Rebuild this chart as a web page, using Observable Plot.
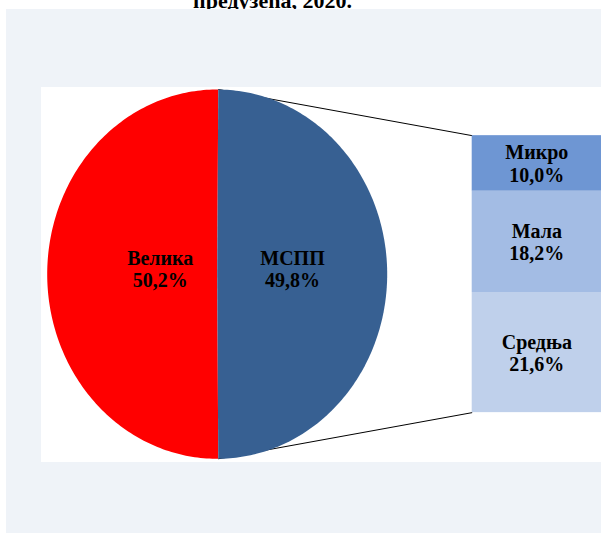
<!DOCTYPE html>
<html>
<head>
<meta charset="utf-8">
<script src="https://cdn.jsdelivr.net/npm/d3@7"></script>
<script src="https://cdn.jsdelivr.net/npm/@observablehq/plot@0.6"></script>
<style>
  html, body { margin: 0; padding: 0; background: #ffffff; overflow: hidden; }
  #wrap { position: relative; width: 601px; height: 533px; overflow: hidden; }
  #title { position: absolute; left: 0; width: 545px; top: -12px; line-height: 22px; text-align: center;
           font: bold 22px "Liberation Serif", "Times New Roman", serif; color: #000; white-space: nowrap; }
  #panel { position: absolute; left: 6px; top: 9px; width: 610px; height: 530px; background: #eff3f8; }
  #plotarea { position: absolute; left: 41px; top: 87px; width: 580px; height: 375px; background: #ffffff; }
  #chart { position: absolute; left: 0; top: 0; }
</style>
</head>
<body>
<div id="wrap">
  <div id="title">предузећа, 2020.</div>
  <div id="panel"></div>
  <div id="plotarea"></div>
  <div id="chart"></div>
</div>
<script>
// ---- data ----
const pieCategories = ["Велика", "МСПП"];
const pieValues = [50.2, 49.8];
const barCategories = ["Микро", "Мала", "Средња"];
const barValues = [10.0, 18.2, 21.6];

// ---- styling ----
const pieColors = ["#ff0000", "#376092"];
const barColors = ["#6e96d3", "#a3bce4", "#bfd0eb"];
const secondPlotSize = 0.75;   // bar height relative to pie diameter
const barLeft = 1.5, barRight = 2.28; // in pie radii
const labelRadius = {"Велика": 0.335, "МСПП": 0.443};

const fmt = v => d3.format(".1f")(v).replace(".", ",") + "%";
const rad = d => d * Math.PI / 180;

// pie angles (clockwise from top); the split slice (МСПП) is centred on the right
const total = d3.sum(pieValues);
const msppSpan = pieValues[1] / total * 360;
const a0 = 90 - msppSpan / 2, a1 = 90 + msppSpan / 2;
const sliceAngles = [[a1, a0 + 360], [a0, a1]];

const wedges = [];
pieCategories.forEach((c, i) => {
  const [s, e] = sliceAngles[i];
  wedges.push({cat: c, x: 0, y: 0});
  const n = Math.ceil(e - s);
  for (let k = 0; k <= n; k++) {
    const a = rad(s + (e - s) * k / n);
    wedges.push({cat: c, x: Math.sin(a), y: Math.cos(a)});
  }
  wedges.push({cat: c, x: 0, y: 0});
});

const pieLabels = pieCategories.map((c, i) => {
  const [s, e] = sliceAngles[i];
  const m = rad((s + e) / 2);
  return {cat: c, x: Math.sin(m) * labelRadius[c], y: Math.cos(m) * labelRadius[c] + 0.03,
          text: c + "\n" + fmt(pieValues[i])};
});

// stacked bar (top = first category)
const barTotal = d3.sum(barValues);
let cum = 0;
const bars = barCategories.map((c, i) => {
  const top = secondPlotSize - 2 * secondPlotSize * cum / barTotal;
  cum += barValues[i];
  const bottom = secondPlotSize - 2 * secondPlotSize * cum / barTotal;
  return {cat: c, y1: bottom, y2: top, x1: barLeft, x2: barRight,
          text: c + "\n" + fmt(barValues[i])};
});

const connectors = [
  {x1: Math.sin(rad(a0)), y1: Math.cos(rad(a0)), x2: barLeft, y2: secondPlotSize},
  {x1: Math.sin(rad(a1)), y1: Math.cos(rad(a1)), x2: barLeft, y2: -secondPlotSize}
];

const font = "Liberation Serif";
const chart = Plot.plot({
  width: 601,
  height: 533,
  margin: 0,
  style: {background: "transparent", overflow: "visible"},
  x: {domain: [-1, 1], range: [46.7, 386.7], axis: null},
  y: {domain: [-1, 1], range: [458.3, 89], axis: null},
  color: {domain: [...pieCategories, ...barCategories], range: [...pieColors, ...barColors]},
  marks: [
    Plot.link(connectors, {x1: "x1", y1: "y1", x2: "x2", y2: "y2", stroke: "#000", strokeWidth: 1}),
    Plot.line(wedges, {x: "x", y: "y", z: "cat", fill: "cat", stroke: "none"}),
    Plot.rect(bars, {x1: "x1", x2: "x2", y1: "y1", y2: "y2", fill: "cat"}),
    Plot.text(pieLabels, {x: "x", y: "y", text: "text", fontSize: 20, fontWeight: "bold",
      fontFamily: font, fill: "#000", lineHeight: 1.12, lineAnchor: "middle"}),
    Plot.text(bars, {x: d => (d.x1 + d.x2) / 2 - 0.01, y: d => (d.y1 + d.y2) / 2, text: "text",
      fontSize: 20, fontWeight: "bold", fontFamily: font, fill: "#000", lineHeight: 1.12, lineAnchor: "middle"})
  ]
});
document.getElementById("chart").appendChild(chart);
</script>
</body>
</html>
